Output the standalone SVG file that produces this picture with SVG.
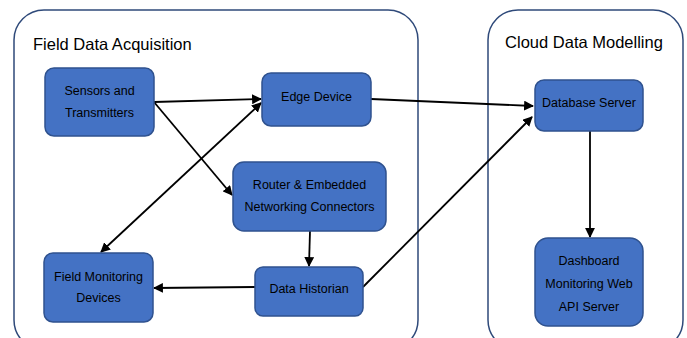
<svg xmlns="http://www.w3.org/2000/svg" width="687" height="338" viewBox="0 0 687 338">
<style>
.container{fill:#ffffff;stroke:#2F4A7A;stroke-width:1.5}
.box{fill:#4472C4;stroke:#2F528F;stroke-width:1.5}
.lbl{font-family:"Liberation Sans",Arial,sans-serif;font-size:12.5px;fill:#000;text-anchor:middle}
.title{font-family:"Liberation Sans",Arial,sans-serif;font-size:16.5px;fill:#000}
.conn{stroke:#000;stroke-width:1.8;fill:none}
</style>
<defs>
<marker id="ah" viewBox="0 0 10 10" refX="9" refY="5" markerWidth="5.5" markerHeight="5.5" orient="auto-start-reverse" markerUnits="strokeWidth">
<path d="M0,0 L10,5 L0,10 z" fill="#000"/>
</marker>
</defs>
<rect width="687" height="338" fill="#ffffff"/>
<g id="field-data-acquisition">
<rect class="container" x="14" y="10" width="404" height="340" rx="30"/>
<text class="title" x="33" y="50">Field Data Acquisition</text>
</g>
<g id="cloud-data-modelling">
<rect class="container" x="488" y="10" width="195" height="340" rx="30"/>
<text class="title" x="584" y="48" text-anchor="middle">Cloud Data Modelling</text>
</g>
<g id="connectors">
<line class="conn" x1="154" y1="102" x2="261" y2="99" marker-end="url(#ah)"/>
<line class="conn" x1="154" y1="102" x2="232" y2="195" marker-end="url(#ah)"/>
<line class="conn" x1="101" y1="252" x2="261" y2="103" marker-start="url(#ah)" marker-end="url(#ah)"/>
<line class="conn" x1="371" y1="99" x2="533" y2="106" marker-end="url(#ah)"/>
<line class="conn" x1="310" y1="231" x2="309" y2="266" marker-end="url(#ah)"/>
<line class="conn" x1="255" y1="287" x2="154" y2="288" marker-end="url(#ah)"/>
<line class="conn" x1="363" y1="287" x2="532" y2="117" marker-end="url(#ah)"/>
<line class="conn" x1="590" y1="131" x2="590" y2="237" marker-end="url(#ah)"/>
</g>
<g id="sensors">
<rect class="box" x="45" y="68" width="109" height="68" rx="9"/>
<text class="lbl" x="99.5" y="94.5">Sensors and</text>
<text class="lbl" x="99.5" y="116.5">Transmitters</text>
</g>
<g id="edge-device">
<rect class="box" x="262" y="73" width="109" height="53" rx="9"/>
<text class="lbl" x="316.5" y="100.5">Edge Device</text>
</g>
<g id="router">
<rect class="box" x="233" y="162" width="153" height="69" rx="11"/>
<text class="lbl" x="309.5" y="188.5">Router &amp; Embedded</text>
<text class="lbl" x="309.5" y="210.5">Networking Connectors</text>
</g>
<g id="field-monitoring">
<rect class="box" x="44" y="253" width="109" height="69" rx="9"/>
<text class="lbl" x="98.5" y="280.5">Field Monitoring</text>
<text class="lbl" x="98.5" y="301.5">Devices</text>
</g>
<g id="data-historian">
<rect class="box" x="255" y="267" width="108" height="49" rx="8"/>
<text class="lbl" x="309" y="292.5">Data Historian</text>
</g>
<g id="database-server">
<rect class="box" x="535" y="80" width="108" height="51" rx="9"/>
<text class="lbl" x="589" y="106.5">Database Server</text>
</g>
<g id="dashboard">
<rect class="box" x="535" y="238" width="108" height="88" rx="13"/>
<text class="lbl" x="589" y="264.5">Dashboard</text>
<text class="lbl" x="589" y="287.5">Monitoring Web</text>
<text class="lbl" x="589" y="310.5">API Server</text>
</g>
</svg>
